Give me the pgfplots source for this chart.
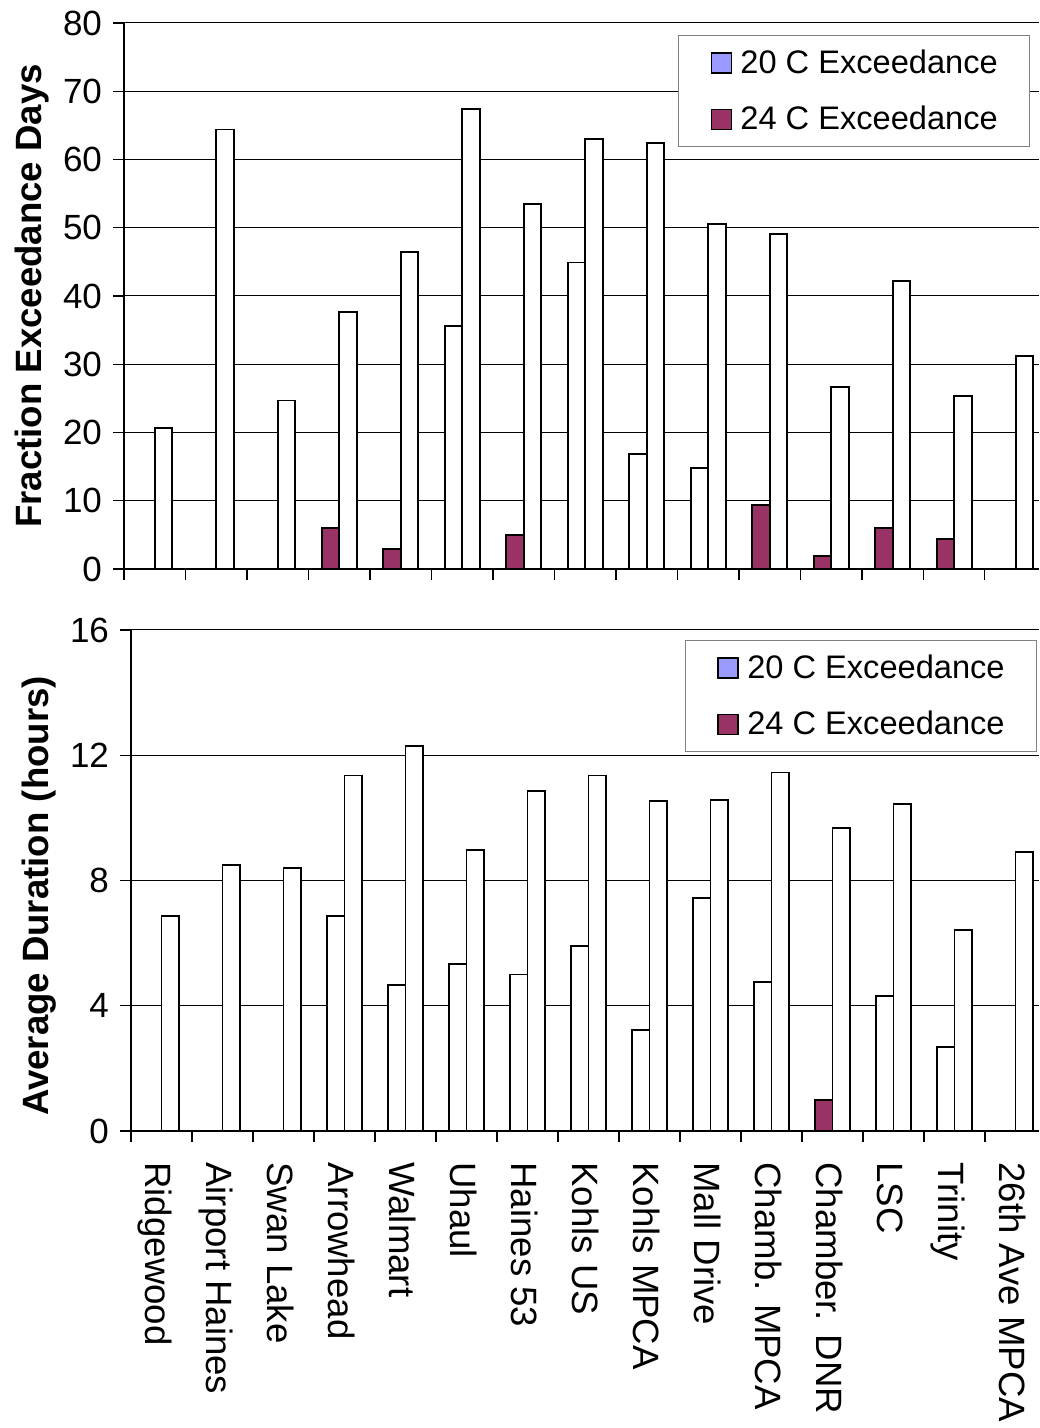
\documentclass[border=0pt]{standalone}
\usepackage{fontspec}
\setmainfont{Liberation Sans}
\usepackage{pgfplots}
\pgfplotsset{compat=1.18}
\definecolor{maroonx}{HTML}{993366}
\definecolor{lblue}{HTML}{9999FF}
\pgfplotsset{
  mystyle/.style={
    scale only axis,
    axis lines=left,
    axis line style={-, black, line width=0.6pt},
    xmin=-0.5, ymin=0,
    tick align=outside,
    major tick length=5.5pt,
    ymajorgrids,
    grid style={black, line width=0.5pt},
    ytick style={black, line width=0.6pt},
    xtick style={draw=none},
    extra x ticks={-0.5,0.5,1.5,2.5,3.5,4.5,5.5,6.5,7.5,8.5,9.5,10.5,11.5,12.5,13.5},
    extra x tick labels={},
    extra x tick style={grid=none, xtick style={draw=black, line width=0.6pt}},
    /pgf/number format/assume math mode=true,
    yticklabel style={font=\fontsize{17.5}{20}\selectfont, xshift=-2pt},
    ylabel style={font=\bfseries\fontsize{18.3}{22}\selectfont},
    legend style={draw=gray, line width=0.6pt, inner xsep=16pt, inner ysep=7pt,
      row sep=15pt, column sep=4pt, font=\fontsize{16.3}{19}\selectfont,
      nodes={inner sep=0pt}, cells={anchor=west}},
    legend image code/.code={\draw[#1, line width=0.9pt] (0pt,-5pt) rectangle (10pt,5pt);},
  },
  mybar/.style={ybar, bar width=8.75pt, draw=black, line width=0.9pt},
}
\begin{document}
\begin{tikzpicture}
\useasboundingbox (0,0) rectangle (519.5pt,714pt);
% ---------------- top panel ----------------
\begin{axis}[mystyle,
  at={(62pt,429.5pt)}, anchor=south west,
  width=457.5pt, height=273pt,
  xmax=14.38, ymax=80,
  ytick={0,10,...,80},
  xtick=\empty,
  ylabel={Fraction Exceedance Days},
  legend style={at={(0.6055,0.978)}, anchor=north west},
]
\addlegendimage{fill=lblue, draw=black}
\addlegendentry{20 C Exceedance}
\addlegendimage{fill=maroonx, draw=black}
\addlegendentry{24 C Exceedance}
% left bars, white
\addplot[mybar, bar shift=-4.375pt, fill=white, forget plot] coordinates {
  (5,35.6) (7,44.9) (8,16.8) (9,14.8)};
% left bars, maroon
\addplot[mybar, bar shift=-4.375pt, fill=maroonx, forget plot] coordinates {
  (3,6.0) (4,2.9) (6,5.0) (10,9.4) (11,1.95) (12,6.0) (13,4.45)};
% right bars, white
\addplot[mybar, bar shift=4.375pt, fill=white, forget plot] coordinates {
  (0,20.7) (1,64.4) (2,24.7) (3,37.6) (4,46.5) (5,67.4) (6,53.5) (7,63.0)
  (8,62.4) (9,50.5) (10,49.1) (11,26.7) (12,42.2) (13,25.4) (14,31.2)};
\end{axis}
% ---------------- bottom panel ----------------
\begin{axis}[mystyle,
  at={(65.5pt,148.5pt)}, anchor=south west,
  width=454pt, height=250.5pt,
  xmax=14.385, ymax=16,
  ytick={0,4,...,16},
  xtick={-0.26,0.74,1.74,2.74,3.74,4.74,5.74,6.74,7.74,8.74,9.74,10.74,11.74,12.74,13.74},
  xticklabels={Ridgewood, Airport Haines, Swan Lake, Arrowhead, Walmart, Uhaul,
    Haines 53, Kohls US, Kohls MPCA, Mall Drive, Chamb. MPCA, Chamber. DNR, LSC,
    Trinity, 26th Ave MPCA},
  xticklabel style={rotate=-90, anchor=base west, inner sep=0pt,
    font=\fontsize{18.3}{22}\selectfont},
  xticklabel shift=10pt,
  ylabel={Average Duration (hours)},
  ylabel style={at={(ticklabel cs:0.469)}},
  legend style={at={(0.610,0.980)}, anchor=north west},
]
\addlegendimage{fill=lblue, draw=black}
\addlegendentry{20 C Exceedance}
\addlegendimage{fill=maroonx, draw=black}
\addlegendentry{24 C Exceedance}
\addplot[mybar, bar shift=-4.375pt, fill=white, forget plot] coordinates {
  (3,6.87) (4,4.67) (5,5.33) (6,5.0) (7,5.92) (8,3.22) (9,7.45) (10,4.75)
  (12,4.32) (13,2.67)};
\addplot[mybar, bar shift=-4.375pt, fill=maroonx, forget plot] coordinates {
  (11,1.0)};
\addplot[mybar, bar shift=4.375pt, fill=white, forget plot] coordinates {
  (0,6.87) (1,8.5) (2,8.4) (3,11.35) (4,12.3) (5,8.98) (6,10.87) (7,11.35)
  (8,10.55) (9,10.58) (10,11.45) (11,9.68) (12,10.45) (13,6.42) (14,8.92)};
\end{axis}
\end{tikzpicture}
\end{document}
